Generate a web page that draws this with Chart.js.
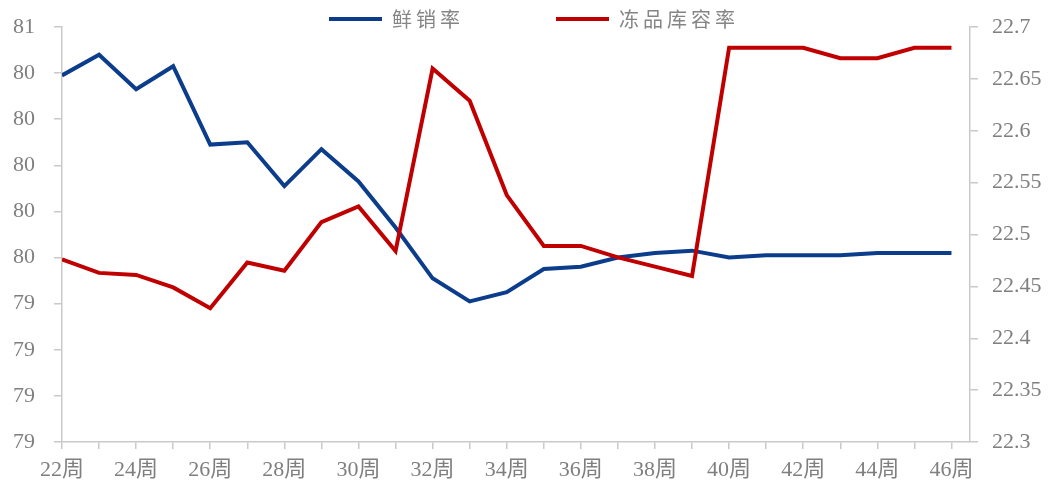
<!DOCTYPE html>
<html>
<head>
<meta charset="utf-8">
<script src="https://cdn.jsdelivr.net/npm/chart.js@4/dist/chart.umd.min.js"></script>
<style>
  html, body { margin: 0; padding: 0; background: #ffffff; }
  #wrap { width: 1049px; height: 486px; position: relative; }
</style>
</head>
<body>
<div id="wrap"><canvas id="c"></canvas></div>
<script>
// ---- data ----
const weeks = [22,23,24,25,26,27,28,29,30,31,32,33,34,35,36,37,38,39,40,41,42,43,44,45,46];
const categories = weeks.map(w => w + '周');
const seriesNames = ['鲜销率', '冻品库容率'];
const freshSalesRate = [80.39,80.48,80.33,80.43,80.09,80.10,79.91,80.07,79.93,79.73,79.51,79.41,79.45,79.55,79.56,79.60,79.62,79.63,79.60,79.61,79.61,79.61,79.62,79.62,79.62];
const frozenStorageRate = [22.476,22.463,22.461,22.449,22.429,22.473,22.465,22.512,22.527,22.484,22.660,22.629,22.538,22.489,22.489,22.478,22.469,22.460,22.680,22.680,22.680,22.670,22.670,22.680,22.680];
const leftTickLabels = ['79','79','79','79','80','80','80','80','80','81'];
const rightTickLabels = ['22.3','22.35','22.4','22.45','22.5','22.55','22.6','22.65','22.7'];

// ---- style ----
const BLUE = '#0b3d8c';
const RED = '#c00000';
const AXIS = '#c9c9c9';
const TXT = '#7f7f7f';
const LEFT_MIN = 78.8, LEFT_STEP = 0.2;
const RIGHT_MIN = 22.3, RIGHT_STEP = 0.05;
const LEG_PAD = 92;
const LEG_FONT = 20;

Chart.defaults.font.family = "'Liberation Serif', 'Noto Sans CJK SC', serif";

function wrapLegend(lg) {
  if (!lg || lg.__wrapped) return;
  lg.__wrapped = true;
  const origFit = lg.fit.bind(lg);
  lg.fit = function () {
    const ctx = this.ctx;
    ctx.save();
    ctx.letterSpacing = '4px';
    origFit();
    ctx.restore();
    this.height = 27;
  };
  lg.draw = function () {
    if (!this.options.display) return;
    const ctx = this.ctx;
    ctx.save();
    ctx.letterSpacing = '4px';
    ctx.translate(329 - LEG_PAD - this.left, 19 - LEG_FONT / 2 - LEG_PAD - this.top);
    this._draw();
    ctx.restore();
  };
}

const legendTweak = {
  id: 'legendTweak',
  beforeInit(chart) { wrapLegend(chart.legend); },
  beforeLayout(chart) { wrapLegend(chart.legend); }
};

const defaultGen = Chart.defaults.plugins.legend.labels.generateLabels;
const noVertPad = (s) => { s.paddingTop = 0; s.paddingBottom = 0; };

new Chart(document.getElementById('c'), {
  type: 'line',
  data: {
    datasets: [
      {
        label: seriesNames[0],
        data: weeks.map((w, i) => ({ x: w, y: freshSalesRate[i] })),
        borderColor: BLUE, backgroundColor: BLUE,
        borderWidth: 4, pointRadius: 0, tension: 0,
        yAxisID: 'y', order: 2
      },
      {
        label: seriesNames[1],
        data: weeks.map((w, i) => ({ x: w, y: frozenStorageRate[i] })),
        borderColor: RED, backgroundColor: RED,
        borderWidth: 4, pointRadius: 0, tension: 0,
        yAxisID: 'y1', order: 1
      }
    ]
  },
  options: {
    responsive: true,
    maintainAspectRatio: false,
    animation: false,
    layout: { padding: 0 },
    plugins: {
      tooltip: { enabled: false },
      legend: {
        position: 'top',
        align: 'start',
        labels: {
          boxWidth: 53,
          boxHeight: 4,
          padding: LEG_PAD,
          color: '#858585',
          font: { family: "'Noto Sans CJK SC', sans-serif", size: LEG_FONT },
          sort: (a, b) => a.datasetIndex - b.datasetIndex,
          generateLabels: (chart) => defaultGen(chart).map(l => Object.assign({}, l, { lineWidth: 0, fillStyle: l.strokeStyle }))
        }
      }
    },
    scales: {
      x: {
        type: 'linear',
        min: weeks[0],
        max: weeks[weeks.length - 1] + 0.5,
        afterBuildTicks: (s) => { s.ticks = weeks.map(v => ({ value: v })); },
        afterFit: (s) => { s.height = 44; },
        ticks: {
          autoSkip: false, maxRotation: 0, minRotation: 0,
          padding: 8, color: TXT, font: { size: 22 },
          callback: (v) => { const i = weeks.indexOf(v); return (i >= 0 && i % 2 === 0) ? categories[i] : ''; }
        },
        grid: { drawOnChartArea: false, drawTicks: true, tickLength: 7, color: AXIS, lineWidth: 1.5 },
        border: { display: true, color: AXIS, width: 1.5 }
      },
      y: {
        position: 'left',
        min: LEFT_MIN,
        max: LEFT_MIN + LEFT_STEP * (leftTickLabels.length - 1),
        afterBuildTicks: (s) => { s.ticks = leftTickLabels.map((t, i) => ({ value: +(LEFT_MIN + LEFT_STEP * i).toFixed(2) })); },
        afterFit: (s) => { s.width = 62; noVertPad(s); },
        ticks: { padding: 19, color: TXT, font: { size: 22 }, callback: (v, i) => leftTickLabels[i] },
        grid: { drawOnChartArea: false, drawTicks: true, tickLength: 8, color: AXIS, lineWidth: 1.5 },
        border: { display: true, color: AXIS, width: 1.5 }
      },
      y1: {
        position: 'right',
        min: RIGHT_MIN,
        max: RIGHT_MIN + RIGHT_STEP * (rightTickLabels.length - 1),
        afterBuildTicks: (s) => { s.ticks = rightTickLabels.map((t, i) => ({ value: +(RIGHT_MIN + RIGHT_STEP * i).toFixed(3) })); },
        afterFit: (s) => { s.width = 79; noVertPad(s); },
        ticks: { padding: 14, color: TXT, font: { size: 22 }, callback: (v, i) => rightTickLabels[i] },
        grid: { drawOnChartArea: false, drawTicks: true, tickLength: 8, color: AXIS, lineWidth: 1.5 },
        border: { display: true, color: AXIS, width: 1.5 }
      }
    }
  },
  plugins: [legendTweak]
});
</script>
</body>
</html>
